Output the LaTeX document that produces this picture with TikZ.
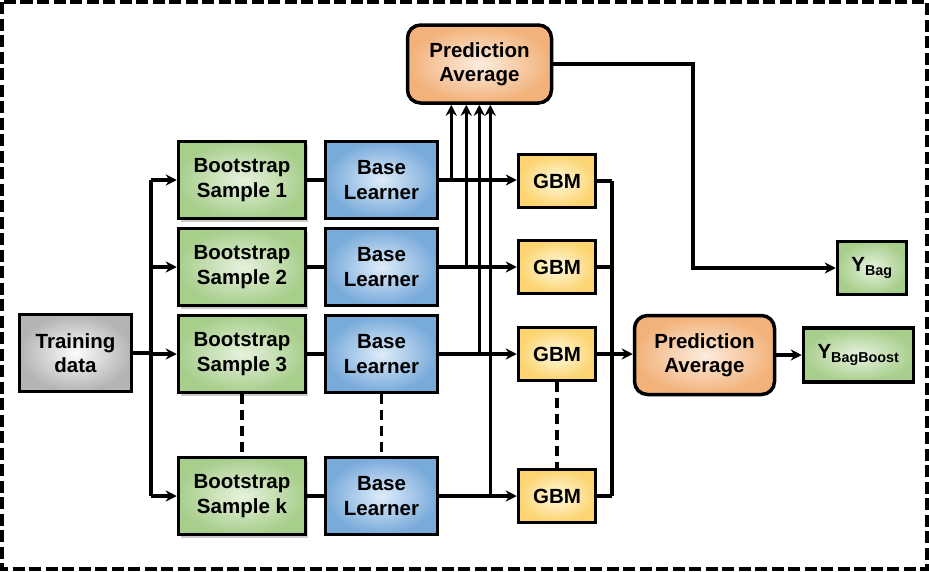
\documentclass[tikz,border=0pt]{standalone}
\usepackage{fontspec}
\setmainfont{Liberation Sans}
\usetikzlibrary{arrows.meta,shadows}

\begin{document}
\begin{tikzpicture}[x=1pt,y=1pt,yscale=-1,xscale=1,
  box/.style={draw, line width=3.5pt, inner sep=0pt, align=center,
    font=\fontsize{20.5}{24.5}\selectfont\bfseries},
  greenbox/.style={box, inner color={rgb,255:red,230;green,242;blue,222}, outer color={rgb,255:red,168;green,206;blue,140}},
  bluebox/.style={box, inner color={rgb,255:red,222;green,236;blue,250}, outer color={rgb,255:red,120;green,170;blue,218}},
  gbmbox/.style={box, inner color={rgb,255:red,255;green,249;blue,222}, outer color={rgb,255:red,252;green,212;blue,112}},
  avgbox/.style={box, rounded corners=13pt, inner color={rgb,255:red,253;green,236;blue,222}, outer color={rgb,255:red,242;green,178;blue,122}},
  graybox/.style={box, inner color={rgb,255:red,252;green,252;blue,252}, outer color={rgb,255:red,180;green,180;blue,180}},
  shade/.style={drop shadow={opacity=0.4, shadow xshift=2.5pt, shadow yshift=-3.5pt}},
  line/.style={line width=3.1pt},
  arr/.style={line width=3.1pt, -{Stealth[length=11pt,width=11pt,inset=3.5pt]}},
  dashline/.style={line width=3.1pt, dash pattern=on 10pt off 6pt}
]
\useasboundingbox (0,0) rectangle (929,571);
%outer frame
\draw [line width=4pt, dash pattern=on 12pt off 4.5pt] (2,2) rectangle (927,569);

%nodes
\node (train) at (75.5,353) [graybox, minimum width=112, minimum height=77] {Training\\data};

\node (bs1) at (242,180) [greenbox, shade, minimum width=127, minimum height=77] {Bootstrap\\Sample 1};
\node (bs2) at (242,267) [greenbox, shade, minimum width=127, minimum height=77] {Bootstrap\\Sample 2};
\node (bs3) at (242,354) [greenbox, shade, minimum width=127, minimum height=77] {Bootstrap\\Sample 3};
\node (bsk) at (242,496) [greenbox, shade, minimum width=127, minimum height=77] {Bootstrap\\Sample k};

\node (bl1) at (381.5,180) [bluebox, minimum width=112, minimum height=77] {Base\\Learner};
\node (bl2) at (381.5,267) [bluebox, minimum width=112, minimum height=77] {Base\\Learner};
\node (bl3) at (381.5,354) [bluebox, minimum width=112, minimum height=77] {Base\\Learner};
\node (blk) at (381.5,496) [bluebox, minimum width=112, minimum height=77] {Base\\Learner};

\node (gbm1) at (557,181) [gbmbox, minimum width=77, minimum height=53] {GBM};
\node (gbm2) at (557,267) [gbmbox, minimum width=77, minimum height=53] {GBM};
\node (gbm3) at (557,354) [gbmbox, minimum width=77, minimum height=53] {GBM};
\node (gbmk) at (557,496) [gbmbox, minimum width=77, minimum height=53] {GBM};

\node (avgtop) at (479.5,64) [avgbox, minimum width=144, minimum height=78] {Prediction\\Average};
\node (avgright) at (704.5,355) [avgbox, minimum width=140, minimum height=79] {Prediction\\Average};

\node (ybag) at (872,268) [greenbox, minimum width=69, minimum height=53] {Y\textsubscript{Bag}};
\node (ybb) at (858.5,355) [greenbox, minimum width=110, minimum height=54] {Y\textsubscript{BagBoost}};

%split of the training data
\coordinate (fork) at (151,353);
\draw [line] (train.east) -- (fork);
\draw [line] (fork |- bs1.west) -- (fork |- bsk.west);
\foreach \i in {1,2,3,k}
  \draw [arr] (fork |- bs\i.west) -- (bs\i.west);

%samples to learners to GBM
\foreach \i in {1,2,3,k} {
  \draw [line] (bs\i.east) -- (bl\i.west);
  \draw [arr] (bl\i.east) -- (gbm\i.west |- bl\i.east);
}

%learners up to the top average
\foreach \i/\d in {1/12,2/27,3/40,k/51} {
  \coordinate (up\i) at ([xshift=\d pt]bl\i.east);
  \draw [arr] (up\i) -- (up\i |- avgtop.south);
}

%GBM outputs collected
\coordinate (join) at (612,354);
\foreach \i in {1,2,3,k}
  \draw [line] (gbm\i.east) -- (gbm\i.east -| join);
\draw [line] (join |- gbm1.east) -- (join |- gbmk.east);
\draw [arr] (gbm3.east) -- (avgright.west |- gbm3.east);
\draw [arr] (avgright.east) -- (ybb.west);

%bagging output
\coordinate (bagturn) at (693,0);
\draw [arr] (avgtop.east) -| (bagturn |- ybag.west) -- (ybag.west);

%omitted rows
\draw [dashline] (bs3.south) -- (bsk.north);
\draw [dashline] (bl3.south) -- (blk.north);
\draw [dashline] (gbm3.south) -- (gbmk.north);

\end{tikzpicture}
\end{document}
